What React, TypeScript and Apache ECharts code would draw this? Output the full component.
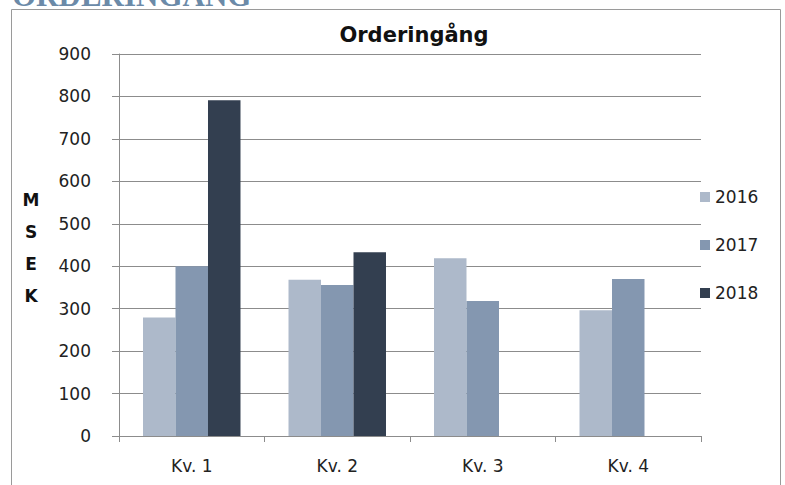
import React, { useEffect, useRef } from "react";
import * as echarts from "echarts";

const categories = ["Kv. 1", "Kv. 2", "Kv. 3", "Kv. 4"];
const years = ["2016", "2017", "2018"];
const values2016 = [279, 368, 419, 296];
const values2017 = [400, 356, 318, 370];
const values2018: (number | null)[] = [791, 433, null, null];
const colors = ["#adb9ca", "#8497b0", "#333f50"];
const yTicks = { min: 0, max: 900, interval: 100 };

const FONT = "DejaVu Sans";

export default function App() {
  const ref = useRef<HTMLDivElement>(null);
  useEffect(() => {
    document.body.style.margin = "0";
    if (!ref.current) return;
    const chart = echarts.init(ref.current, undefined, { renderer: "svg" });
    const seriesData = [values2016, values2017, values2018];
    chart.setOption({
      animation: false,
      backgroundColor: "#ffffff",
      title: {
        text: "Orderingång",
        left: 409,
        top: 19,
        textAlign: "center",
        textStyle: { fontFamily: FONT, fontSize: 21, fontWeight: "bold", color: "#111" },
      },
      legend: {
        orient: "vertical",
        left: 695,
        top: 182,
        itemWidth: 10,
        itemHeight: 10,
        itemGap: 28,
        icon: "rect",
        data: years,
        textStyle: { fontFamily: FONT, fontSize: 17, color: "#222", lineHeight: 20, padding: [0, 0, 0, 0] },
      },
      grid: { left: 119, right: 84, top: 54, bottom: 49, containLabel: false },
      xAxis: {
        type: "category",
        data: categories,
        axisLine: { lineStyle: { color: "#8c8c8c", width: 1 } },
        axisTick: { show: true, length: 6, lineStyle: { color: "#8c8c8c" } },
        axisLabel: { fontFamily: FONT, fontSize: 17, color: "#222", margin: 21 },
      },
      yAxis: {
        type: "value",
        min: yTicks.min,
        max: yTicks.max,
        interval: yTicks.interval,
        axisLine: { show: true, lineStyle: { color: "#8c8c8c", width: 1 } },
        axisTick: { show: true, length: 7, lineStyle: { color: "#8c8c8c" } },
        splitLine: { show: true, lineStyle: { color: "#8c8c8c", width: 1 } },
        axisLabel: { fontFamily: FONT, fontSize: 17, color: "#222", margin: 28 },
      },
      series: years.map((y, i) => ({
        name: y,
        type: "bar",
        data: seriesData[i],
        barGap: "0%",
        barCategoryGap: "33%",
        itemStyle: { color: colors[i] },
      })),
      graphic: [
        {
          type: "rect",
          shape: { x: 11.5, y: 9.5, width: 769, height: 500 },
          style: { fill: "none", stroke: "#9a9a9a", lineWidth: 1 },
          silent: true,
        },
        {
          type: "text",
          x: 12,
          y: 11,
          style: {
            text: "ORDERINGÅNG",
            font: "bold 31px 'Liberation Serif'",
            fill: "#6b8aa8",
            verticalAlign: "bottom",
            align: "left",
          },
          silent: true,
        },
        {
          type: "text",
          x: 31,
          y: 248,
          style: {
            text: "M\nS\nE\nK",
            font: "bold 17px 'DejaVu Sans'",
            fill: "#111",
            align: "center",
            verticalAlign: "middle",
            lineHeight: 32,
          },
          silent: true,
        },
      ],
    });
    return () => chart.dispose();
  }, []);
  return <div ref={ref} style={{ width: 785, height: 485 }} />;
}
